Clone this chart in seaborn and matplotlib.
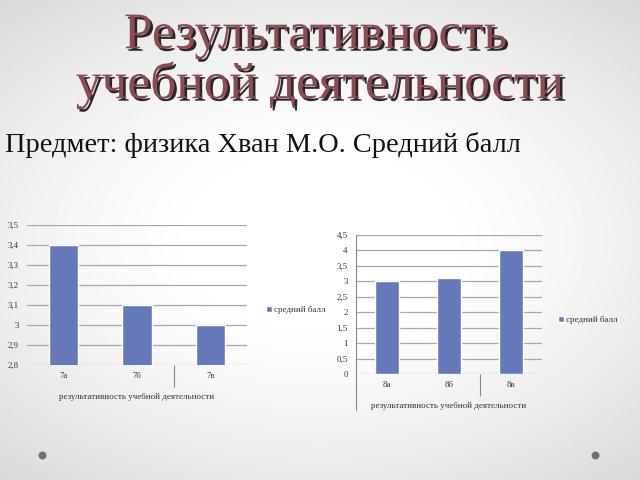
import numpy as np
import matplotlib
matplotlib.use("Agg")
import matplotlib.pyplot as plt
import matplotlib.patheffects as pe
from matplotlib.ticker import FuncFormatter
import seaborn as sns
import pandas as pd

# data
classes_7 = ["7а", "7б", "7в"]
scores_7 = [3.4, 3.1, 3.0]
classes_8 = ["8а", "8б", "8в"]
scores_8 = [3.0, 3.1, 4.0]
series_name = "средний балл"
axis_title = "результативность учебной деятельности"

bar_color = "#6578BA"
grid_color = "#a8a8a8"
text_color = "#333333"

sns.set_theme(style="white")
plt.rcParams["font.family"] = ["Liberation Serif", "DejaVu Serif"]

fig = plt.figure(figsize=(6.4, 4.8), dpi=100)

# slide background with soft vignette
bg = fig.add_axes([0, 0, 1, 1], zorder=-10)
yy, xx = np.mgrid[-1:1:240j, -1:1:320j]
r = np.sqrt((xx * 1.0) ** 2 + (yy * 1.15) ** 2)
shade = 1.0 - 0.12 * np.clip(r - 0.35, 0, None) ** 1.4
bg.imshow(shade, cmap="gray", vmin=0, vmax=1, extent=[0, 640, 0, 480], aspect="auto")
bg.scatter([42, 595], [25, 25], s=22, color="#707070")
bg.set_xlim(0, 640)
bg.set_ylim(0, 480)
bg.axis("off")

# titles
title_fx = [pe.SimplePatchShadow(offset=(1.8, -1.8), shadow_rgbFace="#111111", alpha=0.9),
            pe.Normal()]
fig.text(0.493, 0.925, "Результативность", ha="center", va="center", fontsize=37,
         color="#8C4A52", path_effects=title_fx)
fig.text(0.50, 0.822, "учебной деятельности", ha="center", va="center", fontsize=37,
         color="#8C4A52", path_effects=title_fx)
fig.text(0.008, 0.697, "Предмет: физика Хван М.О. Средний балл", ha="left", va="center",
         fontsize=20.4, color="#111111")


def comma(v, pos):
    s = ("%.1f" % v).rstrip("0").rstrip(".")
    return s.replace(".", ",")


def draw_chart(ax, cats, vals, ylim, step, legend_xy, show_spine):
    df = pd.DataFrame({"class": cats, "score": vals})
    sns.barplot(data=df, x="class", y="score", color=bar_color, width=0.4,
                saturation=1, ax=ax, label=series_name, zorder=3)
    ax.set_ylim(*ylim)
    ax.set_xlim(-0.5, len(cats) - 0.5)
    ax.set_yticks(np.arange(ylim[0], ylim[1] + step / 2, step))
    ax.yaxis.set_major_formatter(FuncFormatter(comma))
    ax.yaxis.grid(True, color=grid_color, linewidth=0.9)
    ax.set_axisbelow(True)
    ax.set_facecolor("none")
    for s in ax.spines.values():
        s.set_visible(False)
    ax.tick_params(axis="both", length=0, labelsize=6.3, colors=text_color, pad=6)
    ax.tick_params(axis="x", pad=5)
    ax.set_xticks([1.5], minor=True)
    ax.tick_params(axis="x", which="minor", length=16, width=0.8, color="#888888",
                   bottom=True)
    ax.set_ylabel("")
    ax.set_xlabel(axis_title, fontsize=6.5, color=text_color, labelpad=1)
    if show_spine:
        ax.plot([0, 0], [1, -0.26], transform=ax.transAxes, color="#888888",
                linewidth=0.8, clip_on=False)
    leg = ax.legend(loc="center left", bbox_to_anchor=legend_xy,
                    bbox_transform=fig.transFigure, frameon=False, fontsize=6.5,
                    handlelength=0.6, handleheight=0.6, handletextpad=0.3)
    for t in leg.get_texts():
        t.set_color(text_color)


ax1 = fig.add_axes([27 / 640, 1 - 365 / 480, 220 / 640, 140 / 480])
draw_chart(ax1, classes_7, scores_7, (2.8, 3.5), 0.1, (258 / 640, 1 - 310 / 480), False)

ax2 = fig.add_axes([356 / 640, 1 - 374 / 480, 186 / 640, 139 / 480])
draw_chart(ax2, classes_8, scores_8, (0, 4.5), 0.5, (550 / 640, 1 - 320 / 480), True)

fig.savefig("out.png", dpi=100)
